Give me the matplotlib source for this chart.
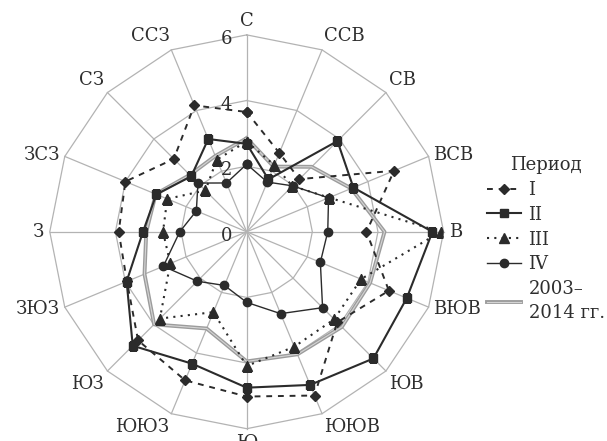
import numpy as np
import matplotlib
matplotlib.use("Agg")
import matplotlib.pyplot as plt
import matplotlib.patheffects as pe

# wind directions, clockwise from north
directions = ["С", "ССВ", "СВ", "ВСВ", "В", "ВЮВ", "ЮВ", "ЮЮВ",
              "Ю", "ЮЮЗ", "ЮЗ", "ЗЮЗ", "З", "ЗСЗ", "СЗ", "ССЗ"]

period_1 = [3.65, 2.6, 2.27, 4.86, 3.65, 4.69, 3.9, 5.4,
            5.02, 4.9, 4.68, 3.95, 3.9, 4.0, 3.14, 4.17]
period_2 = [2.68, 1.73, 3.91, 3.52, 5.66, 5.28, 5.46, 5.05,
            4.75, 4.35, 4.91, 3.96, 3.16, 2.98, 2.39, 3.06]
period_3 = [2.75, 2.2, 1.97, 2.72, 5.91, 3.77, 3.77, 3.79,
            4.09, 2.65, 3.74, 2.52, 2.55, 2.62, 1.78, 2.38]
period_4 = [2.06, 1.64, 1.98, 2.7, 2.47, 2.43, 3.27, 2.7,
            2.15, 1.77, 2.13, 2.75, 2.04, 1.66, 2.1, 1.61]
mean_2003_2014 = [2.85, 2.15, 2.8, 3.45, 4.2, 4.07, 4.1, 4.04,
                  3.95, 3.19, 3.99, 3.37, 3.06, 3.0, 2.45, 2.5]

ring_values = [0, 2, 4, 6]
rmax = 6

plt.rcParams["font.family"] = ["DejaVu Serif"]

fig = plt.figure(figsize=(6.07, 4.41), dpi=100)
ax = fig.add_axes([0.0819, 0.0279, 0.649, 0.893], projection="polar")
ax.set_theta_zero_location("N")
ax.set_theta_direction(-1)
ax.set_ylim(0, rmax)
ax.grid(False)
ax.spines["polar"].set_visible(False)
ax.set_xticks([])
ax.set_yticks([])
ax.patch.set_alpha(0)

n = len(directions)
theta = np.arange(n) * 2 * np.pi / n
closed = np.append(theta, theta[0])


def close(vals):
    return np.append(vals, vals[0])


grid_col = "#b3b3b3"
for r in ring_values[1:]:
    ax.plot(closed, np.full(n + 1, r), color=grid_col, lw=0.9, zorder=1,
            clip_on=False)
for t in theta:
    ax.plot([t, t], [0, rmax], color=grid_col, lw=0.9, zorder=1,
            clip_on=False)

dark = "#2b2b2b"
ax.plot(closed, close(mean_2003_2014), color="#d4d4d4", lw=0.8, zorder=2,
        label="2003–\n2014 гг.",
        path_effects=[pe.Stroke(linewidth=2.8, foreground="#9c9c9c"),
                      pe.Normal()])
ax.plot(closed, close(period_1), color=dark, lw=1.4, dashes=(3, 3),
        marker="D", ms=5, zorder=3, label="I")
ax.plot(closed, close(period_2), color=dark, lw=1.5, marker="s", ms=6,
        zorder=3, label="II")
ax.plot(closed, close(period_3), color=dark, lw=1.5, dashes=(1, 2.5),
        marker="^", ms=6.5, zorder=3, label="III")
ax.plot(closed, close(period_4), color=dark, lw=1.0, marker="o", ms=6,
        zorder=3, label="IV")

# tick values along the north axis
for v in ring_values:
    ax.annotate(str(v), (0, v), xytext=(-20, -4), textcoords="offset pixels",
                ha="center", va="center", fontsize=13, color="#2e2e2e",
                zorder=4)

# direction labels
for t, name in zip(theta, directions):
    s, c = np.sin(t), np.cos(t)
    ha = "left" if s > 0.1 else ("right" if s < -0.1 else "center")
    if abs(c) < 0.45:
        va = "center"
    else:
        va = "bottom" if c > 0 else "top"
    ax.annotate(name, (t, rmax), xytext=(5 * s, 5 * c),
                textcoords="offset pixels", ha=ha, va=va, fontsize=13,
                color="#2e2e2e", annotation_clip=False)

handles, labels = ax.get_legend_handles_labels()
order = [1, 2, 3, 4, 0]
leg = fig.legend([handles[i] for i in order], [labels[i] for i in order],
                 title="Период", loc="upper left",
                 bbox_to_anchor=(487 / 607, 1 - 156 / 441), frameon=False,
                 fontsize=13, title_fontsize=13, handlelength=1.9,
                 handletextpad=0.4, labelspacing=0.38, borderpad=0,
                 borderaxespad=0)
for txt in leg.get_texts():
    txt.set_color("#2e2e2e")
    txt.set_linespacing(1.4)
leg.get_title().set_color("#2e2e2e")

fig.savefig("out.png", dpi=100, facecolor="white")
